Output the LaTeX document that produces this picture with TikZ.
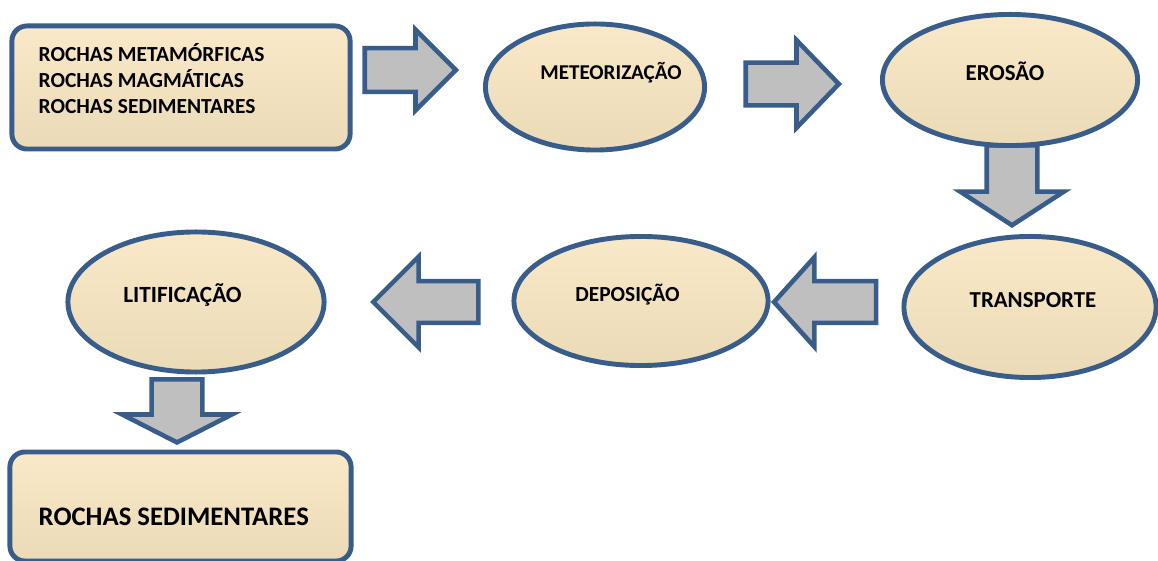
\documentclass[tikz,border=0pt]{standalone}
\usepackage{fontspec}
\setmainfont{Carlito}
\usetikzlibrary{shapes.geometric,shapes.arrows}

\definecolor{rockblue}{HTML}{385D8A}
\definecolor{creamtop}{HTML}{F9E9C8}
\definecolor{creammid}{HTML}{FDF3E1}
\definecolor{creambot}{HTML}{EADAB6}
\definecolor{arrowgrey}{HTML}{BFBFBF}

\tikzset{
  stage/.style={ellipse, draw=rockblue, line width=1.4pt, inner sep=0pt,
    top color=creamtop, middle color=creammid, bottom color=creambot},
  rockbox/.style={rectangle, rounded corners=0.15cm, draw=rockblue, line width=1.4pt, inner sep=0pt,
    top color=creamtop, middle color=creammid, bottom color=creambot},
  flowarrow/.style={single arrow, draw=rockblue, fill=arrowgrey, line width=1.3pt,
    inner xsep=0pt, minimum width=0pt, anchor=tip},
  lbl/.style={inner sep=0pt, text=black}
}

\begin{document}
\begin{tikzpicture}[x=0.01cm, y=-0.01cm]
\useasboundingbox (0,0) rectangle (1158,561);

% Down arrows (under the stages)
\node (arrTransport) [flowarrow, rotate=-90, inner ysep=0.23cm, single arrow head extend=0.265cm,
  minimum height=0.80cm, single arrow tip angle=114] at (1012,228) {};
\node (arrSediment) [flowarrow, rotate=-90, inner ysep=0.23cm, single arrow head extend=0.295cm,
  minimum height=0.63cm, single arrow tip angle=126] at (177,445) {};

% Rock boxes
\node (sourceRocks) [rockbox, minimum width=3.38cm, minimum height=1.23cm] at (181,87.5) {};
\node (sedRocks) [rockbox, minimum width=3.41cm, minimum height=1.09cm] at (180.5,506.5) {};

% Stages
\node (weathering) [stage, minimum width=2.19cm, minimum height=1.26cm] at (595,87) {};
\node (erosion) [stage, minimum width=2.55cm, minimum height=1.31cm] at (1010,80) {};
\node (transport) [stage, minimum width=2.52cm, minimum height=1.41cm] at (1030,307) {};
\node (deposition) [stage, minimum width=2.54cm, minimum height=1.29cm] at (641,301) {};
\node (lithification) [stage, minimum width=2.56cm, minimum height=1.40cm] at (196,302) {};

% Side arrows
\node (arrWeather) [flowarrow, inner ysep=0.195cm, single arrow head extend=0.185cm,
  minimum height=0.91cm, single arrow tip angle=90] at (459,70) {};
\node (arrErosion) [flowarrow, inner ysep=0.19cm, single arrow head extend=0.225cm,
  minimum height=0.93cm, single arrow tip angle=92] at (842,84) {};
\node (arrDeposit) [flowarrow, rotate=180, inner ysep=0.185cm, single arrow head extend=0.24cm,
  minimum height=1.02cm, single arrow tip angle=96] at (771,302) {};
\node (arrLithify) [flowarrow, rotate=180, inner ysep=0.185cm, single arrow head extend=0.245cm,
  minimum height=1.05cm, single arrow tip angle=90] at (370,302) {};

% Labels
\node (sourceTxt) [lbl, align=left, anchor=base west, font=\fontsize{6.1}{7.35}\selectfont\bfseries]
  at (38,113.3) {ROCHAS METAMÓRFICAS\\ROCHAS MAGMÁTICAS\\ROCHAS SEDIMENTARES};
\node (weatherTxt) [lbl, anchor=base, font=\fontsize{6}{7}\selectfont\bfseries] at (611,80) {METEORIZAÇÃO};
\node (erosionTxt) [lbl, anchor=base, font=\fontsize{6.5}{7.5}\selectfont\bfseries] at (1005,81) {EROSÃO};
\node (transportTxt) [lbl, anchor=base, font=\fontsize{6.5}{7.5}\selectfont\bfseries] at (1033,308) {TRANSPORTE};
\node (depositTxt) [lbl, anchor=base, font=\fontsize{6.1}{7}\selectfont\bfseries] at (627.5,302) {DEPOSIÇÃO};
\node (lithTxt) [lbl, anchor=base, font=\fontsize{6.6}{7.5}\selectfont\bfseries] at (182.5,303) {LITIFICAÇÃO};
\node (sedTxt) [lbl, anchor=base west, font=\fontsize{7.6}{9}\selectfont\bfseries] at (38,525) {ROCHAS SEDIMENTARES};

\end{tikzpicture}
\end{document}
